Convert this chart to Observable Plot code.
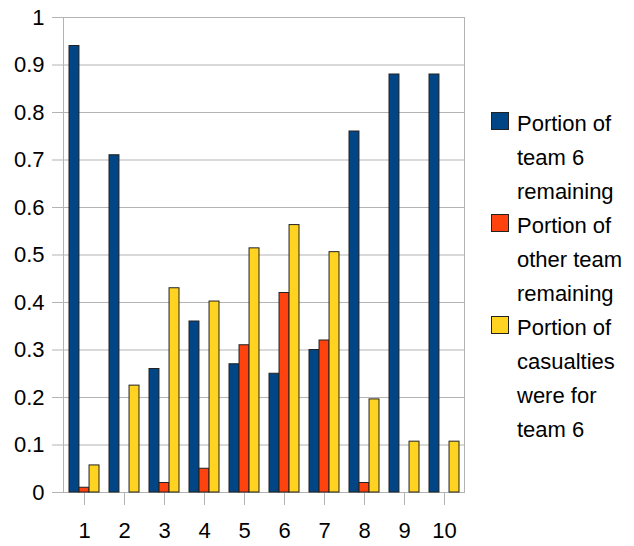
<!DOCTYPE html>
<html>
<head>
<meta charset="utf-8">
<script src="https://cdn.jsdelivr.net/npm/d3@7"></script>
<script src="https://cdn.jsdelivr.net/npm/@observablehq/plot@0.6"></script>
<style>
  html, body { margin: 0; padding: 0; background: #fff; }
  #wrap { position: relative; width: 634px; height: 546px; font-family: "Liberation Sans", Arial, sans-serif; }
  #legend { position: absolute; left: 491px; top: 107px; font-size: 22px; line-height: 34px; color: #000; }
  .item { position: relative; padding-left: 26px; width: 112px; }
  .sw { position: absolute; left: 0; top: 5px; width: 16px; height: 16px; border: 1px solid #222; box-sizing: content-box; }
</style>
</head>
<body>
<div id="wrap"><div id="chart"></div><div id="legend"></div></div>
<script>
const categories = ["1", "2", "3", "4", "5", "6", "7", "8", "9", "10"];
const seriesNames = ["Portion of team 6 remaining", "Portion of other team remaining", "Portion of casualties were for team 6"];
const team6Remaining = [0.94, 0.71, 0.26, 0.36, 0.27, 0.25, 0.30, 0.76, 0.88, 0.88];
const otherRemaining = [0.01, 0, 0.02, 0.05, 0.31, 0.42, 0.32, 0.02, 0, 0];
const casualtiesTeam6 = [0.057, 0.225, 0.43, 0.402, 0.514, 0.563, 0.506, 0.196, 0.107, 0.107];
const colors = ["#004586", "#ff420e", "#ffd320"];
const yTicks = [0, 0.1, 0.2, 0.3, 0.4, 0.5, 0.6, 0.7, 0.8, 0.9, 1];

const seriesValues = [team6Remaining, otherRemaining, casualtiesTeam6];
const rows = seriesValues.map((vals, s) =>
  categories.map((c, i) => ({category: c, series: seriesNames[s], value: vals[i]})).filter(d => d.value > 0)
);

const width = 634, height = 546;
const marginLeft = 63, marginRight = 170, marginTop = 17, marginBottom = 54;
const paddingInner = 0.25, paddingOuter = 0.125;
const step = (width - marginLeft - marginRight) / (categories.length - paddingInner + 2 * paddingOuter);
const sub = step * (1 - paddingInner) / 3;

const grid = "#b3b3b3";
const chart = Plot.plot({
  width, height, marginLeft, marginRight, marginTop, marginBottom,
  style: {fontFamily: '"Liberation Sans", Arial, sans-serif', fontSize: "22px", color: "#000", background: "#fff"},
  x: {domain: categories, paddingInner, paddingOuter, label: null},
  y: {domain: [0, 1], label: null},
  marks: [
    Plot.gridY(yTicks, {stroke: grid, strokeOpacity: 1}),
    Plot.frame({stroke: grid}),
    Plot.axisY(yTicks, {tickSize: 11, tickPadding: 8, stroke: grid, tickFormat: d3.format("~g"), fill: "#000"}),
    Plot.axisX({tickSize: 13, tickPadding: 17, stroke: grid, fill: "#000"}),
    ...rows.map((data, s) => Plot.barY(data, {
      x: "category", y: "value", fill: colors[s], stroke: "#222", strokeWidth: 1,
      insetLeft: s * sub, insetRight: (2 - s) * sub
    }))
  ]
});
document.getElementById("chart").appendChild(chart);

const legend = document.getElementById("legend");
seriesNames.forEach((name, s) => {
  const item = document.createElement("div");
  item.className = "item";
  const sw = document.createElement("span");
  sw.className = "sw";
  sw.style.background = colors[s];
  item.appendChild(sw);
  item.appendChild(document.createTextNode(name));
  legend.appendChild(item);
});
</script>
</body>
</html>
